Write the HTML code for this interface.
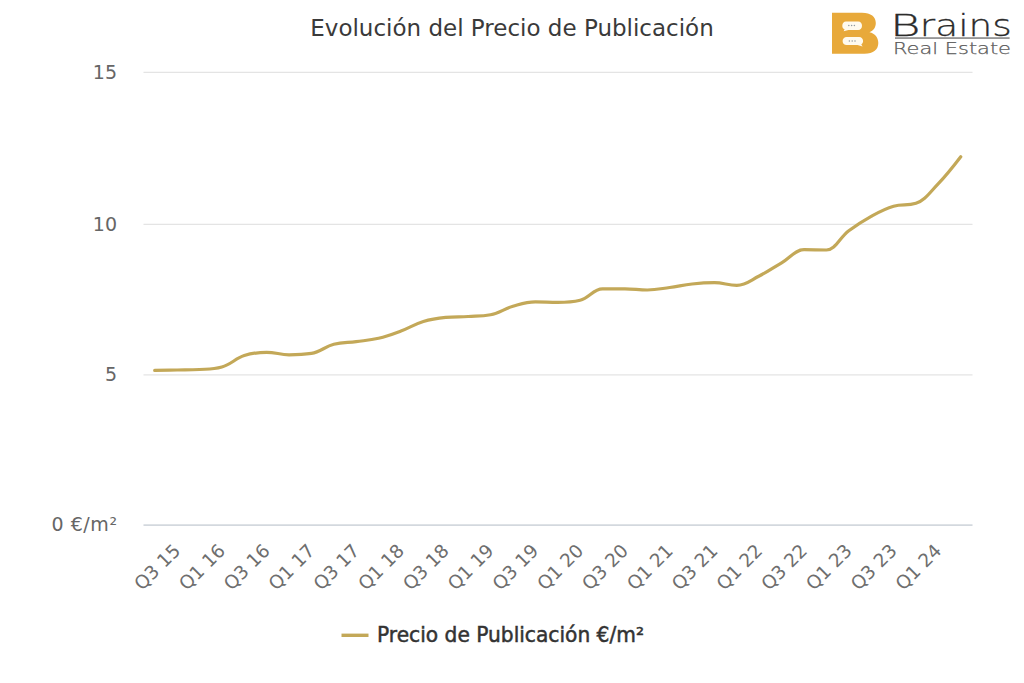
<!DOCTYPE html>
<html><head><meta charset="utf-8"><title>Evolución del Precio de Publicación</title>
<style>
html,body{margin:0;padding:0;background:#fff;}
svg{display:block;}
.t{font-family:"DejaVu Sans","Liberation Sans",sans-serif;}
</style></head><body>
<svg width="1024" height="683" viewBox="0 0 1024 683">
<rect width="1024" height="683" fill="#fff"/>
<!-- grid -->
<g stroke="#e4e4e4" stroke-width="1.4">
<line x1="143.5" y1="72.4" x2="972.5" y2="72.4"/><line x1="143.5" y1="224.4" x2="972.5" y2="224.4"/><line x1="143.5" y1="374.9" x2="972.5" y2="374.9"/>
</g>
<line x1="143.5" y1="525.1" x2="972.5" y2="525.1" stroke="#d3d8de" stroke-width="1.6"/>
<!-- title -->
<text class="t" x="512" y="35.5" text-anchor="middle" font-size="23" fill="#3a3a3a">Evolución del Precio de Publicación</text>
<!-- y labels -->
<g class="t" font-size="19" fill="#666" text-anchor="end">
<text x="117" y="79.2">15</text>
<text x="117" y="230.6">10</text>
<text x="117" y="381">5</text>
<text x="117" y="531" textLength="65.5" lengthAdjust="spacing">0 €/m²</text>
</g>
<!-- x labels -->
<g class="t" font-size="18.5" fill="#6e6e6e">
<text x="181.5" y="551.8" transform="rotate(-45 181.5 551.8)" text-anchor="end">Q3 15</text>
<text x="226.3" y="551.8" transform="rotate(-45 226.3 551.8)" text-anchor="end">Q1 16</text>
<text x="271.0" y="551.8" transform="rotate(-45 271.0 551.8)" text-anchor="end">Q3 16</text>
<text x="315.8" y="551.8" transform="rotate(-45 315.8 551.8)" text-anchor="end">Q1 17</text>
<text x="360.6" y="551.8" transform="rotate(-45 360.6 551.8)" text-anchor="end">Q3 17</text>
<text x="405.4" y="551.8" transform="rotate(-45 405.4 551.8)" text-anchor="end">Q1 18</text>
<text x="450.2" y="551.8" transform="rotate(-45 450.2 551.8)" text-anchor="end">Q3 18</text>
<text x="494.9" y="551.8" transform="rotate(-45 494.9 551.8)" text-anchor="end">Q1 19</text>
<text x="539.7" y="551.8" transform="rotate(-45 539.7 551.8)" text-anchor="end">Q3 19</text>
<text x="584.5" y="551.8" transform="rotate(-45 584.5 551.8)" text-anchor="end">Q1 20</text>
<text x="629.3" y="551.8" transform="rotate(-45 629.3 551.8)" text-anchor="end">Q3 20</text>
<text x="674.1" y="551.8" transform="rotate(-45 674.1 551.8)" text-anchor="end">Q1 21</text>
<text x="718.9" y="551.8" transform="rotate(-45 718.9 551.8)" text-anchor="end">Q3 21</text>
<text x="763.6" y="551.8" transform="rotate(-45 763.6 551.8)" text-anchor="end">Q1 22</text>
<text x="808.4" y="551.8" transform="rotate(-45 808.4 551.8)" text-anchor="end">Q3 22</text>
<text x="853.2" y="551.8" transform="rotate(-45 853.2 551.8)" text-anchor="end">Q1 23</text>
<text x="898.0" y="551.8" transform="rotate(-45 898.0 551.8)" text-anchor="end">Q3 23</text>
<text x="942.7" y="551.8" transform="rotate(-45 942.7 551.8)" text-anchor="end">Q1 24</text>
</g>
<!-- series -->
<path d="M 154.70 370.40 C 154.70 370.40 168.13 370.18 177.09 370.00 C 186.05 369.82 190.52 370.00 199.48 369.50 C 208.44 369.00 212.91 369.50 221.87 367.00 C 230.83 364.50 235.30 358.54 244.26 355.60 C 253.22 352.66 257.69 352.30 266.65 352.30 C 275.61 352.30 280.08 354.80 289.04 354.80 C 298.00 354.80 302.47 354.80 311.43 353.40 C 320.39 352.00 324.86 346.66 333.82 344.30 C 342.78 341.94 347.25 342.80 356.21 341.60 C 365.17 340.40 369.64 340.42 378.60 338.30 C 387.56 336.18 392.03 334.36 400.99 331.00 C 409.95 327.64 414.42 324.22 423.38 321.50 C 432.34 318.78 436.81 318.30 445.77 317.40 C 454.73 316.50 459.20 317.02 468.16 316.50 C 477.12 315.98 481.59 316.50 490.55 314.80 C 499.51 313.10 503.98 308.90 512.94 306.30 C 521.90 303.70 526.37 301.80 535.33 301.80 C 544.29 301.80 548.76 302.40 557.72 302.40 C 566.68 302.40 571.15 302.40 580.11 300.20 C 589.07 298.00 593.54 288.80 602.50 288.80 C 611.46 288.80 615.93 288.80 624.89 288.80 C 633.85 288.80 638.32 290.00 647.28 290.00 C 656.24 290.00 660.71 288.70 669.67 287.50 C 678.63 286.30 683.10 284.96 692.06 284.00 C 701.02 283.04 705.49 282.70 714.45 282.70 C 723.41 282.70 727.88 285.30 736.84 285.30 C 745.80 285.30 750.27 280.50 759.23 276.00 C 768.19 271.50 772.66 268.06 781.62 262.80 C 790.58 257.54 795.05 249.70 804.01 249.70 C 812.97 249.70 817.44 250.00 826.40 250.00 C 835.36 250.00 839.83 237.54 848.79 230.80 C 857.75 224.06 862.22 221.22 871.18 216.30 C 880.14 211.38 884.61 208.80 893.57 206.20 C 902.53 203.60 907.00 206.20 915.96 203.30 C 924.92 200.40 929.39 192.92 938.35 183.60 C 947.31 174.28 960.74 156.70 960.74 156.70" fill="none" stroke="#c3a858" stroke-width="3.2" stroke-linecap="round" stroke-linejoin="round"/>
<!-- legend -->
<line x1="341.5" y1="635.3" x2="368.5" y2="635.3" stroke="#c3a858" stroke-width="3.4"/>
<text x="377" y="641.8" font-family="'DejaVu Sans',sans-serif" font-size="20.8" fill="#333" stroke="#333" stroke-width="0.5" textLength="267" lengthAdjust="spacingAndGlyphs">Precio de Publicación €/m²</text>
<!-- logo -->
<g id="logo">
<path d="M832 12.8 H862 C871 12.8 875.8 17 875.8 23 C875.8 27.5 873.5 30.5 869.5 32.2 C875 33.5 878.3 37.5 878.3 43 C878.3 49.5 873.5 53.7 864.5 53.7 H832 Z" fill="#e8a93a"/>
<path d="M846 21.5 H858.2 C860.5 21.5 862 23.2 862 25.7 C862 28.2 860.5 29.9 858.2 29.9 H848.5 L843.6 31.3 L844.6 29.3 C843 28.6 842.3 27.3 842.3 25.7 C842.3 23.2 843.8 21.5 846 21.5 Z" fill="#fffaee"/>
<path d="M846.6 36.9 H859.2 C861.5 36.9 863.1 38.6 863.1 41 C863.1 42.6 862.4 43.8 861.3 44.4 L862.6 46.4 L857.5 45.1 H846.6 C844.3 45.1 842.6 43.4 842.6 41 C842.6 38.6 844.3 36.9 846.6 36.9 Z" fill="#fffaee"/>
<g fill="#8f9aa0">
<circle cx="848.8" cy="25.6" r="0.75"/><circle cx="851.6" cy="25.6" r="0.75"/><circle cx="854.4" cy="25.6" r="0.75"/>
<circle cx="849.4" cy="41" r="0.75"/><circle cx="852.2" cy="41" r="0.75"/><circle cx="855" cy="41" r="0.75"/>
</g>
<g font-family="'DejaVu Sans',sans-serif" font-weight="200" fill="#2b2b2b" stroke="#2b2b2b" stroke-width="0.3">
<text x="890" y="35.5" font-size="30.2" textLength="30.5" lengthAdjust="spacingAndGlyphs">B</text>
<text x="919.8" y="35.5" font-size="30.2" textLength="92" lengthAdjust="spacingAndGlyphs">rains</text>
</g>
<rect x="895" y="37.4" width="114.6" height="1.3" fill="#6a6a6a"/>
<text x="893" y="53.8" font-family="'DejaVu Sans',sans-serif" font-weight="200" font-size="16.5" fill="#5a5a5a" stroke="#5a5a5a" stroke-width="0.25" textLength="118" lengthAdjust="spacingAndGlyphs">Real Estate</text>
</g>

</svg>
</body></html>
